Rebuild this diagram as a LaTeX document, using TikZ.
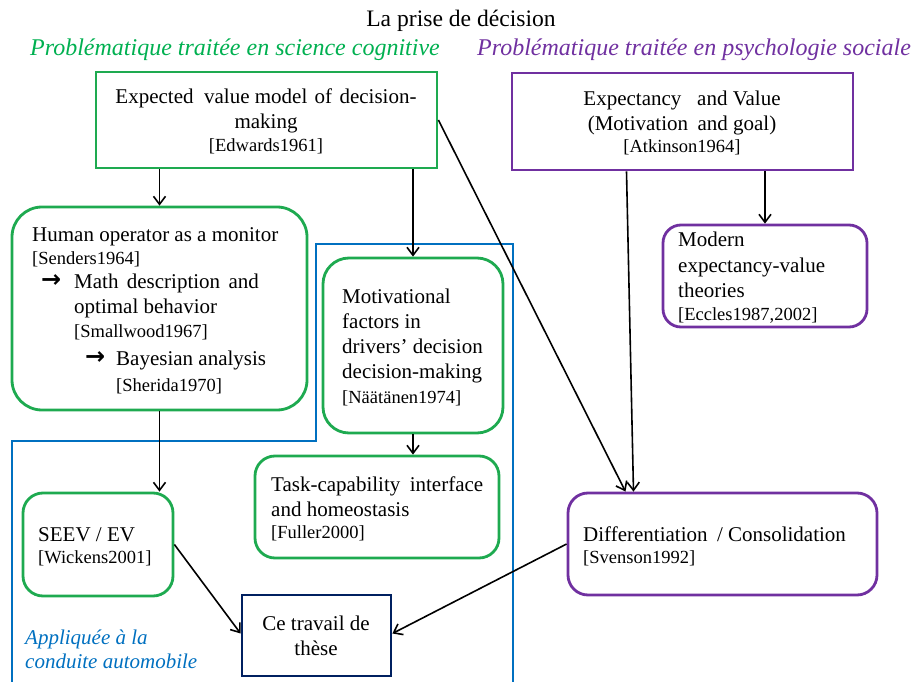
\documentclass[tikz,border=0pt]{standalone}
\usepackage{fontspec}
\setmainfont{Liberation Serif}
\newfontfamily\symfont{DejaVu Sans}
\usetikzlibrary{arrows.meta}
\definecolor{gtext}{RGB}{0,176,80}
\definecolor{gline}{RGB}{30,170,80}
\definecolor{ptext}{RGB}{112,48,160}
\definecolor{pline}{RGB}{112,48,160}
\definecolor{bline}{RGB}{0,112,192}
\definecolor{navy}{RGB}{0,32,96}
\tikzset{
  txt/.style={inner sep=0pt, text height=0.7em, text depth=0.3em, font=\fontsize{21}{25}\selectfont},
  cite/.style={inner sep=0pt, text height=0.7em, text depth=0.3em, font=\fontsize{18.5}{22}\selectfont},
  head/.style={inner sep=0pt, text height=0.7em, text depth=0.3em, font=\fontsize{24}{28}\selectfont\itshape},
  gbox/.style={draw=gline, line width=2.8pt, inner sep=0pt},
  pbox/.style={draw=pline, line width=2.8pt, inner sep=0pt},
  nbox/.style={draw=navy, line width=2.8pt, inner sep=0pt},
  arr/.style={draw=black, line width=1.6pt, -{Straight Barb[length=8pt,width=12pt,line width=1.6pt]}},
}
\begin{document}
\begin{tikzpicture}[x=1pt,y=-1pt]
\useasboundingbox (0,0) rectangle (916,682);
% blue frame
\draw[bline, line width=1.6pt] (12,684) -- (12,441) -- (316,441) -- (316,244) -- (513,244) -- (513,684);

% titles
\node[txt, font=\fontsize{23.6}{28}\selectfont] (title) at (461,24.3) {La prise de décision};
\node[head, text=gtext, anchor=west] (hcog) at (30,53.3) {Problématique traitée en science cognitive};
\node[head, text=ptext, anchor=west] (hpsy) at (477,54) {Problématique traitée en psychologie sociale};

% boxes
\node[gbox, minimum width=341pt, minimum height=96pt] (edw) at (266.5,120) {};
\node[pbox, minimum width=341pt, minimum height=97pt] (atk) at (682.5,121.5) {};
\node[gbox, rounded corners=30pt, minimum width=295pt, minimum height=203pt] (hum) at (159.5,308.5) {};
\node[gbox, rounded corners=26pt, minimum width=180pt, minimum height=175pt] (mot) at (413,345.5) {};
\node[pbox, rounded corners=18pt, minimum width=204pt, minimum height=102pt] (mod) at (765,276) {};
\node[gbox, rounded corners=20pt, minimum width=244pt, minimum height=102pt] (task) at (377,507) {};
\node[gbox, rounded corners=20pt, minimum width=150pt, minimum height=103pt] (seev) at (98,544.5) {};
\node[pbox, rounded corners=20pt, minimum width=309pt, minimum height=102pt] (diff) at (722.5,544) {};
\node[nbox, minimum width=149pt, minimum height=81pt] (ce) at (316.5,635.5) {};

% texts: Edwards
\node[txt] (edw1) at (266,102) {Expected\hspace{0.25em} value model\hspace{0.1em} of\hspace{0.1em} decision-};
\node[txt] (edw2) at (266,127) {making};
\node[cite] (edw3) at (266,150) {[Edwards1961]};
% Atkinson
\node[txt] (atk1) at (682,104) {Expectancy\hspace{0.5em} and Value};
\node[txt] (atk2) at (682,129) {(Motivation\hspace{0.2em} and goal)};
\node[cite] (atk3) at (682,151) {[Atkinson1964]};
% Human operator
\node[txt, anchor=west] (hum1) at (32,239) {Human operator as a monitor};
\node[cite, anchor=west] (hum2) at (32,262) {[Senders1964]};
\node[txt, anchor=west, font=\fontsize{24}{28}\selectfont] (hum3a) at (41,285) {\symfont\bfseries →};
\node[txt, anchor=west] (hum3) at (74,286) {Math\hspace{0.15em} description\hspace{0.15em} and};
\node[txt, anchor=west] (hum4) at (74,311) {optimal behavior};
\node[cite, anchor=west] (hum5) at (74,335) {[Smallwood1967]};
\node[txt, anchor=west, font=\fontsize{24}{28}\selectfont] (hum6a) at (85,362) {\symfont\bfseries →};
\node[txt, anchor=west] (hum6) at (116,363) {Bayesian analysis};
\node[cite, anchor=west] (hum7) at (116,389) {[Sherida1970]};
% Motivational
\node[txt, anchor=west] (mot1) at (342,301) {Motivational};
\node[txt, anchor=west] (mot2) at (342,326) {factors in};
\node[txt, anchor=west] (mot3) at (342,351) {drivers’ decision};
\node[txt, anchor=west] (mot4) at (342,376) {decision-making};
\node[cite, anchor=west] (mot5) at (342,401) {[Näätänen1974]};
% Modern
\node[txt, anchor=west] (mod1) at (678,244) {Modern};
\node[txt, anchor=west] (mod2) at (678,270) {expectancy-value};
\node[txt, anchor=west] (mod3) at (678,295) {theories};
\node[cite, anchor=west] (mod4) at (678,318) {[Eccles1987,2002]};
% Task
\node[txt, anchor=west] (task1) at (271,489) {Task-capability\hspace{0.2em} interface};
\node[txt, anchor=west] (task2) at (271,514) {and homeostasis};
\node[cite, anchor=west] (task3) at (271,536) {[Fuller2000]};
% SEEV
\node[txt, anchor=west] (seev1) at (38,539) {SEEV / EV};
\node[cite, anchor=west] (seev2) at (38,561) {[Wickens2001]};
% Differentiation
\node[txt, anchor=west] (diff1) at (583,539) {Differentiation\hspace{0.2em} / Consolidation};
\node[cite, anchor=west] (diff2) at (583,561) {[Svenson1992]};
% Ce travail
\node[txt] (ce1) at (316,628) {Ce travail de};
\node[txt] (ce2) at (316,653) {thèse};
% Appliquee
\node[txt, text=bline, font=\fontsize{21}{25}\selectfont\itshape, anchor=west] (app1) at (25,642) {Appliquée à la};
\node[txt, text=bline, font=\fontsize{21}{25}\selectfont\itshape, anchor=west] (app2) at (25,666) {conduite automobile};

% connectors
\draw[arr] (hum.north |- edw.south) -- (hum.north);
\draw[arr] (mot.north |- edw.south) -- (mot.north);
\draw[arr] (edw.east) -- ([xshift=-97pt]diff.north);
\draw[arr] ([xshift=-56pt]atk.south) -- ([xshift=-89pt]diff.north);
\draw[arr] (mod.north |- atk.south) -- (mod.north);
\draw[arr] (hum.south) -- (hum.south |- seev.north);
\draw[arr] (mot.south) -- (mot.south |- task.north);
\draw[arr] (seev.east) -- ([yshift=2pt]ce.west);
\draw[arr] (diff.west) -- ([yshift=2pt]ce.east);
\end{tikzpicture}
\end{document}
